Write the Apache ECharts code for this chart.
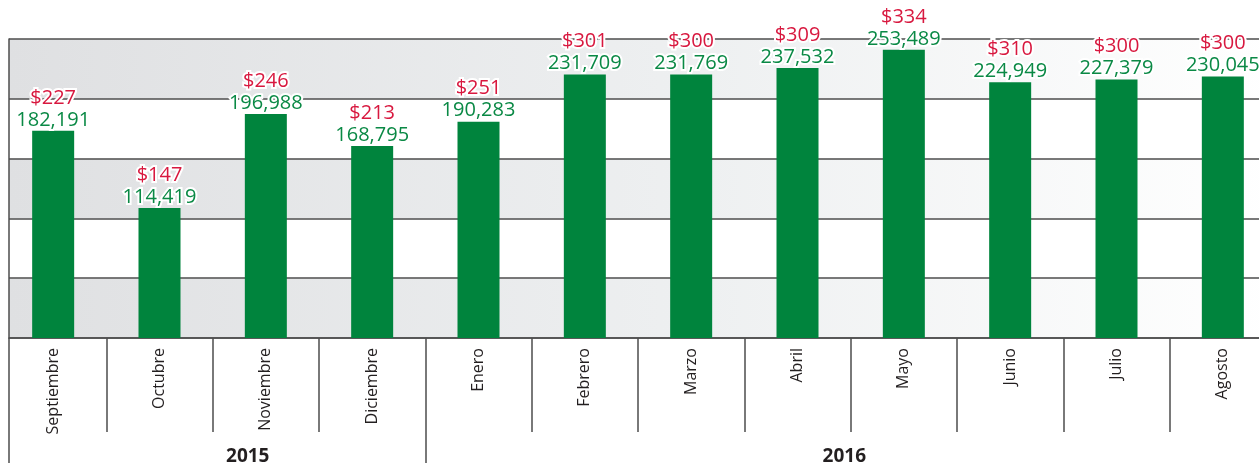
<!DOCTYPE html>
<html>
<head>
<meta charset="utf-8">
<script src="https://cdn.jsdelivr.net/npm/echarts@6/dist/echarts.min.js"></script>
<style>
  html, body { margin: 0; padding: 0; background: #fff; }
  #chart { width: 1259px; height: 463px; }
</style>
</head>
<body>
<div id="chart"></div>
<script>
// months shown on the axis
const months = ["Septiembre", "Octubre", "Noviembre", "Diciembre", "Enero", "Febrero",
  "Marzo", "Abril", "Mayo", "Junio", "Julio", "Agosto"];
// volume per month (green label, bar height)
const volumes = [182191, 114419, 196988, 168795, 190283, 231709,
  231769, 237532, 253489, 224949, 227379, 230045];
// price per month (red label)
const prices = [227, 147, 246, 213, 251, 301, 300, 309, 334, 310, 300, 300];
// year groups and how many months each covers
const years = ["2015", "2016"];
const yearSpans = [4, 8];

// layout helpers
const yMax = 263000;
const yStep = 52600;
const yearLabelAt = [2.33, 7.94];
const yearBreaks = yearSpans.slice(0, -1).reduce((acc, n) => {
  acc.push((acc.length ? acc[acc.length - 1] : 0) + n);
  return acc;
}, []);

const font = "'Open Sans', sans-serif";
const lineColor = "#4d4d4d";
const bandGray = new echarts.graphic.LinearGradient(0, 0, 1, 0, [
  { offset: 0, color: "#dfe0e2" },
  { offset: 0.55, color: "#eef0f1" },
  { offset: 1, color: "#ffffff" },
]);

const option = {
  animation: false,
  grid: [
    // background bands and frame
    { left: 9, top: 39, width: 1267, height: 299, outerBoundsMode: "none" },
    // bars and month axis
    { left: 0, top: 39, width: 1276, height: 299, outerBoundsMode: "none" },
  ],
  xAxis: [
    {
      gridIndex: 0,
      type: "value",
      min: 0,
      max: 1,
      axisLine: { show: true, lineStyle: { color: lineColor, width: 1.5 } },
      axisTick: { show: true, customValues: [0], length: 125, lineStyle: { color: lineColor, width: 1.5 } },
      axisLabel: { show: false },
      splitLine: { show: false },
    },
    {
      gridIndex: 1,
      type: "category",
      data: months,
      axisLine: { show: false },
      axisTick: {
        show: true,
        length: 94,
        interval: (i) => i !== 0,
        lineStyle: { color: lineColor, width: 1.5 },
      },
      axisLabel: {
        interval: 0,
        rotate: 90,
        margin: 10,
        color: "#231f20",
        fontSize: 16,
        fontFamily: font,
      },
    },
    {
      gridIndex: 1,
      type: "value",
      min: 0,
      max: months.length,
      position: "bottom",
      offset: 94,
      axisLine: { show: false },
      axisTick: { show: true, customValues: yearBreaks, length: 31, lineStyle: { color: lineColor, width: 1.5 } },
      axisLabel: {
        customValues: yearLabelAt,
        formatter: (v) => years[yearLabelAt.indexOf(v)] || "",
        margin: 15,
        color: "#231f20",
        fontSize: 19,
        fontWeight: "bold",
        fontFamily: font,
      },
      splitLine: { show: false },
    },
  ],
  yAxis: [
    {
      gridIndex: 0,
      type: "value",
      min: 0,
      max: yMax,
      interval: yStep,
      axisLine: { show: true, lineStyle: { color: lineColor, width: 1.5 } },
      axisTick: { show: false },
      axisLabel: { show: false },
      splitLine: { show: true, lineStyle: { color: lineColor, width: 1.5 } },
      splitArea: { show: true, areaStyle: { color: [bandGray, "#ffffff"] } },
    },
    {
      gridIndex: 1,
      type: "value",
      min: 0,
      max: yMax,
      interval: yStep,
      show: false,
    },
  ],
  series: [
    {
      type: "bar",
      xAxisIndex: 1,
      yAxisIndex: 1,
      data: volumes,
      barWidth: 42,
      itemStyle: { color: "#00843d" },
      label: {
        show: true,
        position: "top",
        distance: 0,
        fontFamily: font,
        formatter: (p) => "{a|$" + prices[p.dataIndex] + "}\n{b|" + p.value.toLocaleString("en-US") + "}",
        rich: {
          a: { color: "#d8183f", fontSize: 20, lineHeight: 22, fontFamily: font, textBorderColor: "#fff", textBorderWidth: 4 },
          b: { color: "#0a8945", fontSize: 20, lineHeight: 22, fontFamily: font, textBorderColor: "#fff", textBorderWidth: 4 },
        },
      },
    },
  ],
};

const chartDom = document.getElementById("chart");
const myChart = echarts.init(chartDom);
option && myChart.setOption(option);
</script>
</body>
</html>
